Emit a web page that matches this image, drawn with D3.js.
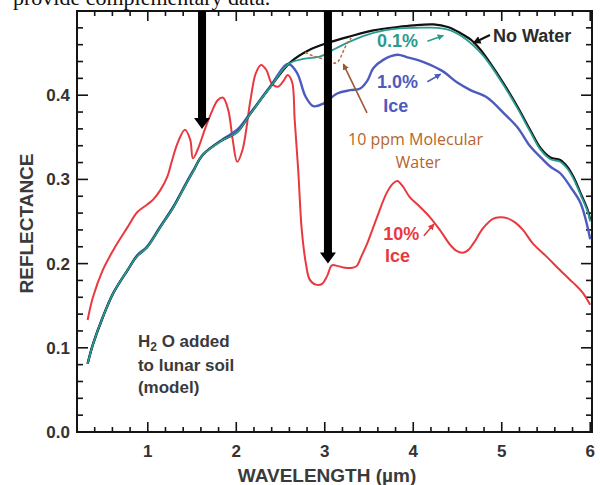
<!DOCTYPE html>
<html>
<head>
<meta charset="utf-8">
<script src="https://cdn.jsdelivr.net/npm/d3@7"></script>
<style>
body { margin: 0; background: #fff; }
svg { display: block; font-family: "Liberation Sans", Arial, sans-serif; }
</style>
</head>
<body>
<div id="chart"></div>
<script>
// reflectance vs wavelength (um)
var noWater = [[0.32,0.081],[0.38,0.104],[0.49,0.136],[0.61,0.165],[0.77,0.192],[0.88,0.209],[0.99,0.219],
  [1.14,0.243],[1.29,0.267],[1.44,0.296],[1.51,0.309],[1.62,0.329],[1.85,0.347],[2.01,0.356],[2.16,0.378],
  [2.38,0.409],[2.61,0.439],[2.83,0.454],[3.06,0.463],[3.29,0.470],[3.55,0.477],[3.82,0.481],[4.00,0.483],
  [4.23,0.484],[4.39,0.481],[4.53,0.474],[4.65,0.466],[4.76,0.454],[4.87,0.438],[5.02,0.414],[5.18,0.386],
  [5.32,0.359],[5.44,0.337],[5.55,0.326],[5.66,0.323],[5.74,0.315],[5.81,0.303],[5.89,0.284],[5.97,0.264],[6.00,0.252]];

var ice01 = [[0.32,0.081],[0.38,0.104],[0.49,0.136],[0.61,0.165],[0.77,0.192],[0.88,0.209],[0.99,0.219],
  [1.14,0.243],[1.29,0.267],[1.44,0.296],[1.51,0.309],[1.62,0.329],[1.85,0.347],[2.01,0.356],[2.16,0.378],
  [2.38,0.409],[2.59,0.437],[2.76,0.443],[2.95,0.446],[3.06,0.452],[3.29,0.464],[3.55,0.474],[3.82,0.479],
  [4.04,0.480],[4.27,0.480],[4.42,0.477],[4.56,0.469],[4.68,0.459],[4.79,0.447],[4.87,0.436],[5.02,0.412],
  [5.18,0.384],[5.32,0.357],[5.44,0.335],[5.55,0.324],[5.66,0.321],[5.74,0.313],[5.81,0.301],[5.89,0.282],
  [5.97,0.262],[6.00,0.250]];

var ice10 = [[0.32,0.081],[0.38,0.104],[0.49,0.136],[0.61,0.165],[0.77,0.192],[0.88,0.210],[0.99,0.220],
  [1.14,0.244],[1.29,0.268],[1.44,0.297],[1.51,0.310],[1.62,0.329],[1.85,0.348],[2.01,0.359],[2.16,0.379],
  [2.38,0.410],[2.587,0.437],[2.689,0.426],[2.78,0.399],[2.87,0.387],[2.983,0.390],[3.141,0.402],
  [3.288,0.406],[3.401,0.408],[3.48,0.417],[3.548,0.432],[3.661,0.442],[3.82,0.448],[3.933,0.445],
  [4.046,0.442],[4.193,0.436],[4.34,0.428],[4.498,0.415],[4.646,0.406],[4.838,0.397],[5.019,0.379],
  [5.177,0.362],[5.324,0.339],[5.471,0.323],[5.551,0.315],[5.664,0.307],[5.777,0.291],[5.89,0.272],[6.00,0.229]];

var ice100 = [[0.32,0.133],[0.38,0.160],[0.49,0.192],[0.61,0.216],[0.77,0.243],[0.88,0.261],[0.99,0.270],
  [1.06,0.276],[1.14,0.287],[1.22,0.303],[1.27,0.321],[1.34,0.344],[1.42,0.359],[1.48,0.347],[1.51,0.325],
  [1.57,0.337],[1.65,0.361],[1.73,0.382],[1.79,0.394],[1.85,0.397],[1.91,0.382],[1.96,0.347],[2.01,0.321],
  [2.07,0.335],[2.16,0.394],[2.22,0.426],[2.28,0.436],[2.34,0.430],[2.40,0.414],[2.47,0.410],[2.54,0.418],
  [2.58,0.424],[2.63,0.416],[2.66,0.371],[2.70,0.311],[2.74,0.240],[2.79,0.198],[2.83,0.181],[2.90,0.175],
  [2.97,0.176],[3.03,0.186],[3.08,0.198],[3.15,0.197],[3.23,0.195],[3.31,0.195],[3.36,0.197],[3.42,0.210],
  [3.48,0.224],[3.59,0.255],[3.70,0.284],[3.77,0.295],[3.82,0.298],[3.88,0.292],[3.96,0.279],[4.08,0.267],
  [4.19,0.255],[4.30,0.240],[4.42,0.222],[4.49,0.215],[4.56,0.213],[4.62,0.216],[4.68,0.224],[4.79,0.242],
  [4.90,0.253],[4.98,0.255],[5.06,0.254],[5.15,0.249],[5.24,0.240],[5.35,0.224],[5.51,0.208],[5.66,0.192],
  [5.80,0.178],[5.83,0.175],[5.91,0.166],[6.00,0.151]];

var molecular10ppm = [[2.78,0.451],[2.86,0.447],[2.95,0.444],[3.03,0.441],[3.10,0.438],[3.15,0.440],
  [3.20,0.450],[3.25,0.461],[3.30,0.468]];

var xMajor = [1, 2, 3, 4, 5, 6];
var yMajor = [0.0, 0.1, 0.2, 0.3, 0.4];

// the two band arrows (wavelength, reflectance at tip)
var bandArrows = [[1.613, 0.360], [3.036, 0.200]];

var width = 600, height = 485;
var margin = {top: 11, right: 8, bottom: 53, left: 77};

var svg = d3.select("#chart").append("svg")
    .attr("width", width)
    .attr("height", height);

var x = d3.scaleLinear().domain([0.2, 6.02]).range([margin.left, width - margin.right]);
var y = d3.scaleLinear().domain([0, 0.5]).range([height - margin.bottom, margin.top]);

// cut-off line of text above the figure
svg.append("text")
    .attr("x", 13).attr("y", 5)
    .style("font-family", "'Liberation Serif', 'Times New Roman', serif")
    .style("font-size", "22px")
    .attr("fill", "#111")
    .text("provide complementary data.");

var px0 = x.range()[0], px1 = x.range()[1], py0 = y.range()[0], py1 = y.range()[1];

// tick positions
var xMinor = d3.range(1, 30).map(function(i) { return +(0.2 * i + 0.2).toFixed(2); })
    .filter(function(v) { return v < 6.01 && Math.abs(v - Math.round(v)) > 1e-6; });
var yMinor = d3.range(0, 26).map(function(i) { return +(0.02 * i).toFixed(2); })
    .filter(function(v) { return Math.abs(v * 10 - Math.round(v * 10)) > 1e-6; });

// frame and ticks as thin filled bars
var bars = [];
var t = 2;
bars.push([px0 - 1, py1 - 1, px1 - px0 + 2, t]);
bars.push([px0 - 1, py0 - 1, px1 - px0 + 2, t]);
bars.push([px0 - 1, py1 - 1, t, py0 - py1 + 2]);
bars.push([px1 - 1, py1 - 1, t, py0 - py1 + 2]);
xMinor.forEach(function(d) {
    bars.push([x(d) - 0.8, py0 - 5, 1.6, 5]);
    bars.push([x(d) - 0.8, py1, 1.6, 5]);
});
xMajor.forEach(function(d) {
    bars.push([x(d) - 0.8, py0 - 10, 1.6, 10]);
    bars.push([x(d) - 0.8, py1, 1.6, 10]);
});
yMinor.forEach(function(d) {
    bars.push([px0, y(d) - 0.8, 6, 1.6]);
    bars.push([px1 - 6, y(d) - 0.8, 6, 1.6]);
});
yMajor.concat([0.5]).forEach(function(d) {
    bars.push([px0, y(d) - 0.8, 11, 1.6]);
    bars.push([px1 - 11, y(d) - 0.8, 11, 1.6]);
});
svg.append("g").selectAll("rect").data(bars).enter().append("rect")
    .attr("x", function(d) { return d[0]; })
    .attr("y", function(d) { return d[1]; })
    .attr("width", function(d) { return d[2]; })
    .attr("height", function(d) { return d[3]; })
    .attr("fill", "#141414");

// tick labels
svg.append("g").selectAll("text").data(xMajor).enter().append("text")
    .attr("x", function(d) { return x(d); })
    .attr("y", py0 + 25)
    .attr("text-anchor", "middle")
    .attr("fill", "#333")
    .style("font-size", "17px").style("font-weight", "bold")
    .text(d3.format("d"));
svg.append("g").selectAll("text").data(yMajor).enter().append("text")
    .attr("x", px0 - 7)
    .attr("y", function(d) { return y(d) + 6; })
    .attr("text-anchor", "end")
    .attr("fill", "#333")
    .style("font-size", "17px").style("font-weight", "bold")
    .text(d3.format(".1f"));

// axis titles
svg.append("text")
    .attr("transform", "translate(33," + ((py0 + py1) / 2 + 2) + ") rotate(-90)")
    .attr("text-anchor", "middle")
    .attr("fill", "#3a3a3a")
    .style("font-size", "19px").style("font-weight", "bold")
    .text("REFLECTANCE");
svg.append("text")
    .attr("x", 327).attr("y", 482)
    .attr("text-anchor", "middle")
    .attr("fill", "#3a3a3a")
    .style("font-size", "19px").style("font-weight", "bold")
    .text("WAVELENGTH (µm)");

// spectra
var line = d3.line()
    .x(function(d) { return x(d[0]); })
    .y(function(d) { return y(d[1]); })
    .curve(d3.curveCatmullRom.alpha(0.5));

var plot = svg.append("g").attr("fill", "none");
plot.append("path").datum(ice100).attr("d", line)
    .attr("stroke", "#e8393f").attr("stroke-width", 2);
plot.append("path").datum(ice10).attr("d", line)
    .attr("stroke", "#4d5bbd").attr("stroke-width", 2.4);
plot.append("path").datum(noWater).attr("d", line)
    .attr("stroke", "#111").attr("stroke-width", 2.2);
plot.append("path").datum(ice01).attr("d", line)
    .attr("stroke", "#2a9c8e").attr("stroke-width", 1.8);
plot.append("path").datum(molecular10ppm).attr("d", line)
    .attr("stroke", "#b8703c").attr("stroke-width", 1.5)
    .attr("stroke-dasharray", "3,2");

// big black arrows
bandArrows.forEach(function(a) {
    var cx = x(a[0]), tip = y(a[1]), head = 11, hw = 8, sw = 4;
    svg.append("path")
        .attr("d", "M" + (cx - sw) + "," + py1 + "L" + (cx + sw) + "," + py1 +
            "L" + (cx + sw) + "," + (tip - head) + "L" + (cx + hw) + "," + (tip - head) +
            "L" + cx + "," + tip + "L" + (cx - hw) + "," + (tip - head) +
            "L" + (cx - sw) + "," + (tip - head) + "Z")
        .attr("fill", "#000");
});

// small label arrows
var defs = svg.append("defs");
function marker(id, color) {
    defs.append("marker").attr("id", id)
        .attr("viewBox", "0 0 10 10").attr("refX", 9).attr("refY", 5)
        .attr("markerWidth", 4).attr("markerHeight", 4)
        .attr("orient", "auto")
        .append("path").attr("d", "M0,0L10,5L0,10Z").attr("fill", color);
}
marker("mk", "#111");
marker("mt", "#2a9c8e");
marker("mb", "#4d5bbd");
marker("mr", "#e8393f");
marker("mo", "#9c5a35");

var pointers = [
    {from: [4.867, 0.4715], to: [4.68, 0.462], color: "#111", m: "mk", w: 2},
    {from: [4.16, 0.464], to: [4.34, 0.471], color: "#2a9c8e", m: "mt", w: 1.6},
    {from: [4.16, 0.416], to: [4.31, 0.425], color: "#4d5bbd", m: "mb", w: 1.6},
    {from: [4.12, 0.233], to: [4.235, 0.247], color: "#e8393f", m: "mr", w: 1.6},
    {from: [3.477, 0.379], to: [3.21, 0.437], color: "#9c5a35", m: "mo", w: 1.6}
];
pointers.forEach(function(p) {
    svg.append("line")
        .attr("x1", x(p.from[0])).attr("y1", y(p.from[1]))
        .attr("x2", x(p.to[0])).attr("y2", y(p.to[1]))
        .attr("stroke", p.color).attr("stroke-width", p.w)
        .attr("marker-end", "url(#" + p.m + ")");
});

// labels
var labels = [
    {t: "No Water", x: 4.90, y: 0.463, c: "#2b2b2b", s: 18, b: true},
    {t: "0.1%", x: 3.59, y: 0.457, c: "#2a9c8e", s: 18, b: true},
    {t: "1.0%", x: 3.59, y: 0.4086, c: "#4d5bbd", s: 18, b: true},
    {t: "Ice", x: 3.66, y: 0.380, c: "#4d5bbd", s: 18, b: true},
    {t: "10 ppm Molecular", x: 3.263, y: 0.341, c: "#b5652b", s: 16, b: false},
    {t: "Water", x: 3.80, y: 0.3135, c: "#b5652b", s: 16, b: false},
    {t: "10%", x: 3.66, y: 0.228, c: "#e8393f", s: 18, b: true},
    {t: "Ice", x: 3.68, y: 0.202, c: "#e8393f", s: 18, b: true},
    {t: "to lunar soil", x: 0.889, y: 0.0724, c: "#3a3a3a", s: 17, b: true},
    {t: "(model)", x: 0.889, y: 0.046, c: "#3a3a3a", s: 17, b: true}
];
labels.forEach(function(l) {
    svg.append("text")
        .attr("x", x(l.x)).attr("y", y(l.y))
        .attr("fill", l.c)
        .style("font-family", l.b ? null : "'Open Sans', sans-serif")
        .style("font-size", l.s + "px")
        .style("font-weight", l.b ? "bold" : "normal")
        .text(l.t);
});

var h2o = svg.append("text")
    .attr("x", x(0.889)).attr("y", y(0.101))
    .attr("fill", "#3a3a3a")
    .style("font-size", "17px").style("font-weight", "bold");
h2o.append("tspan").text("H");
h2o.append("tspan").attr("dy", 4).style("font-size", "12px").text("2");
h2o.append("tspan").attr("dy", -4).text(" O added");
</script>
</body>
</html>
